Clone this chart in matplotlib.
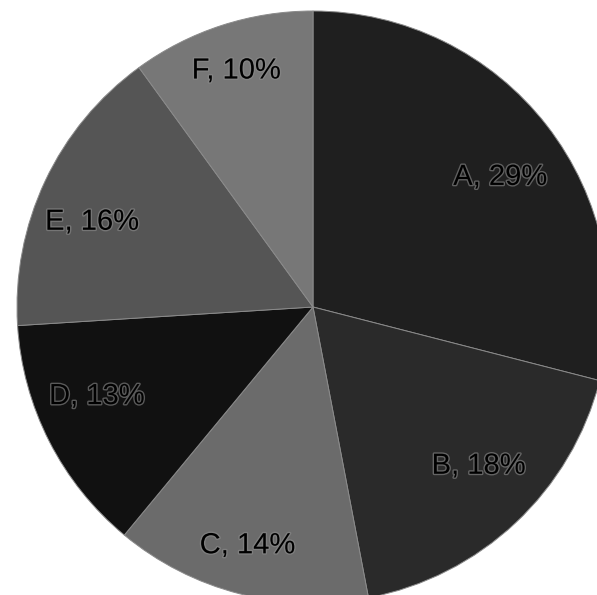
import matplotlib.pyplot as plt
import matplotlib.patheffects as pe
import numpy as np

categories = ["A", "B", "C", "D", "E", "F"]
shares = [29, 18, 14, 13, 16, 10]
colors = ["#1f1f1f", "#2a2a2a", "#6b6b6b", "#111111", "#555555", "#777777"]

# label placement per wedge: radius (fraction of pie) and angle nudge (deg)
label_r = [0.77, 0.775, 0.835, 0.79, 0.80, 0.84]
label_dang = [-3, 3, -1, -4.6, 4.1, 0]

W, H = 597, 595
cx, cy, r = 313, 307, 296  # pie centre / radius in pixels (from top-left)

fig = plt.figure(figsize=(W / 100, H / 100), dpi=100)
ax = fig.add_axes([(cx - r) / W, (H - cy - r) / H, 2 * r / W, 2 * r / H])

labels = [f"{c}, {p}%" for c, p in zip(categories, shares)]
wedges, texts = ax.pie(
    shares, labels=labels, colors=colors, startangle=90, counterclock=False,
    radius=1, labeldistance=0.75,
    wedgeprops=dict(edgecolor="#8a8a8a", linewidth=0.7),
    textprops=dict(family="Liberation Sans", fontsize=21, color="black"),
)
for w, t, lr, da in zip(wedges, texts, label_r, label_dang):
    ang = np.deg2rad((w.theta1 + w.theta2) / 2 + da)
    t.set_position((lr * np.cos(ang), lr * np.sin(ang)))
    t.set_ha("center")
    t.set_va("center")
    t.set_path_effects([pe.withStroke(linewidth=2, foreground="#8c8c8c", alpha=0.6)])

ax.set_xlim(-1, 1)
ax.set_ylim(-1, 1)
ax.set_aspect("equal")
ax.axis("off")

fig.savefig("out.png", dpi=100)
